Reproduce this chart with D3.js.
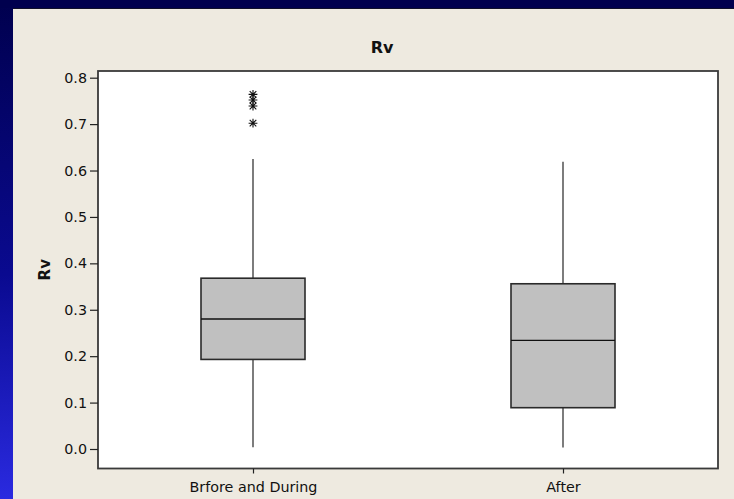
<!DOCTYPE html>
<html>
<head>
<meta charset="utf-8">
<script src="https://cdn.jsdelivr.net/npm/d3@7/dist/d3.min.js"></script>
<style>
  html, body { margin: 0; padding: 0; background: #000050; }
  svg { display: block; }
  text { font-family: "DejaVu Sans", Verdana, sans-serif; fill: #111; }
</style>
</head>
<body>
<svg id="chart" width="734" height="499"></svg>
<script>
// Rv by period: box statistics
const categories = ["Brfore and During", "After"];
const whiskerLow = [0.004, 0.003];
const q1 = [0.193, 0.089];
const median = [0.280, 0.234];
const q3 = [0.368, 0.356];
const whiskerHigh = [0.625, 0.619];
const outliers = [[0.764, 0.752, 0.739, 0.702], []];
const yTicks = [0.0, 0.1, 0.2, 0.3, 0.4, 0.5, 0.6, 0.7, 0.8];

const W = 734, H = 499;
const svg = d3.select("#chart");

// slide backdrop
const defs = svg.append("defs");
const grad = defs.append("linearGradient").attr("id", "side")
  .attr("x1", 0).attr("y1", 0).attr("x2", 0).attr("y2", 1);
grad.append("stop").attr("offset", "0%").attr("stop-color", "#00004e");
grad.append("stop").attr("offset", "55%").attr("stop-color", "#0a0a90");
grad.append("stop").attr("offset", "100%").attr("stop-color", "#2a2ae0");
svg.append("rect").attr("x", 0).attr("y", 0).attr("width", W).attr("height", H).attr("fill", "url(#side)");
svg.append("rect").attr("x", 0).attr("y", 0).attr("width", W).attr("height", 8).attr("fill", "#00004e");

// chart panel
svg.append("rect").attr("x", 13).attr("y", 8).attr("width", W - 13).attr("height", H - 8)
  .attr("fill", "#eeeae0");
svg.append("line").attr("x1", 13).attr("x2", W).attr("y1", 8.5).attr("y2", 8.5)
  .attr("stroke", "#10102a").attr("stroke-width", 1);

// plot frame
const plot = { left: 98, right: 718, top: 71, bottom: 468.5 };

const y = d3.scaleLinear().domain([0, 0.8]).range([449, 77.7]);
const x = d3.scalePoint().domain(categories).range([plot.left, plot.right]).padding(0.5);
const boxW = 104;

svg.append("rect")
  .attr("x", plot.left).attr("y", plot.top)
  .attr("width", plot.right - plot.left).attr("height", plot.bottom - plot.top)
  .attr("fill", "#ffffff");

// boxes
const data = categories.map((c, i) => ({
  c, lo: whiskerLow[i], q1: q1[i], med: median[i], q3: q3[i], hi: whiskerHigh[i], out: outliers[i]
}));

const g = svg.append("g");
data.forEach(d => {
  const cx = x(d.c);
  g.append("line").attr("x1", cx).attr("x2", cx).attr("y1", y(d.hi)).attr("y2", y(d.q3))
    .attr("stroke", "#111").attr("stroke-width", 1.1);
  g.append("line").attr("x1", cx).attr("x2", cx).attr("y1", y(d.q1)).attr("y2", y(d.lo))
    .attr("stroke", "#111").attr("stroke-width", 1.1);
  g.append("rect").attr("x", cx - boxW / 2).attr("y", y(d.q3))
    .attr("width", boxW).attr("height", y(d.q1) - y(d.q3))
    .attr("fill", "#c0c0c0").attr("stroke", "#2a2a2a").attr("stroke-width", 1.6);
  g.append("line").attr("x1", cx - boxW / 2).attr("x2", cx + boxW / 2)
    .attr("y1", y(d.med)).attr("y2", y(d.med))
    .attr("stroke", "#111").attr("stroke-width", 1.4);

  // outliers drawn as asterisks
  const r = 4.4;
  d.out.forEach(v => {
    const p = d3.path();
    const oy = y(v);
    p.moveTo(cx, oy - r); p.lineTo(cx, oy + r);
    p.moveTo(cx - r, oy); p.lineTo(cx + r, oy);
    p.moveTo(cx - r * 0.75, oy - r * 0.75); p.lineTo(cx + r * 0.75, oy + r * 0.75);
    p.moveTo(cx - r * 0.75, oy + r * 0.75); p.lineTo(cx + r * 0.75, oy - r * 0.75);
    g.append("path").attr("d", p.toString()).attr("stroke", "#111").attr("stroke-width", 1.1).attr("fill", "none");
  });
});

// frame border
svg.append("rect")
  .attr("x", plot.left).attr("y", plot.top)
  .attr("width", plot.right - plot.left).attr("height", plot.bottom - plot.top)
  .attr("fill", "none").attr("stroke", "#3a3a3a").attr("stroke-width", 1.8);

// axes
const yAxis = d3.axisLeft(y).tickValues(yTicks).tickFormat(d3.format(".1f")).tickSize(8).tickPadding(3);
const ya = svg.append("g").attr("transform", `translate(${plot.left},0)`).call(yAxis);
ya.select(".domain").remove();
ya.selectAll("line").attr("stroke", "#222").attr("stroke-width", 1.2);
ya.selectAll("text").attr("font-size", 14.3).attr("fill", "#111");

const xAxis = d3.axisBottom(x).tickSize(5).tickPadding(8);
const xa = svg.append("g").attr("transform", `translate(0,${plot.bottom})`).call(xAxis);
xa.select(".domain").remove();
xa.selectAll("line").attr("stroke", "#222").attr("stroke-width", 1.2);
xa.selectAll("text").attr("font-size", 14.3).attr("fill", "#111");

// titles
svg.append("text").attr("x", 382).attr("y", 52.5).attr("text-anchor", "middle")
  .attr("font-size", 16).attr("font-weight", "bold").text("Rv");
svg.append("text").attr("transform", `translate(49.5,${(plot.top + plot.bottom) / 2}) rotate(-90)`)
  .attr("text-anchor", "middle").attr("font-size", 15).attr("font-weight", "bold").text("Rv");
</script>
</body>
</html>
